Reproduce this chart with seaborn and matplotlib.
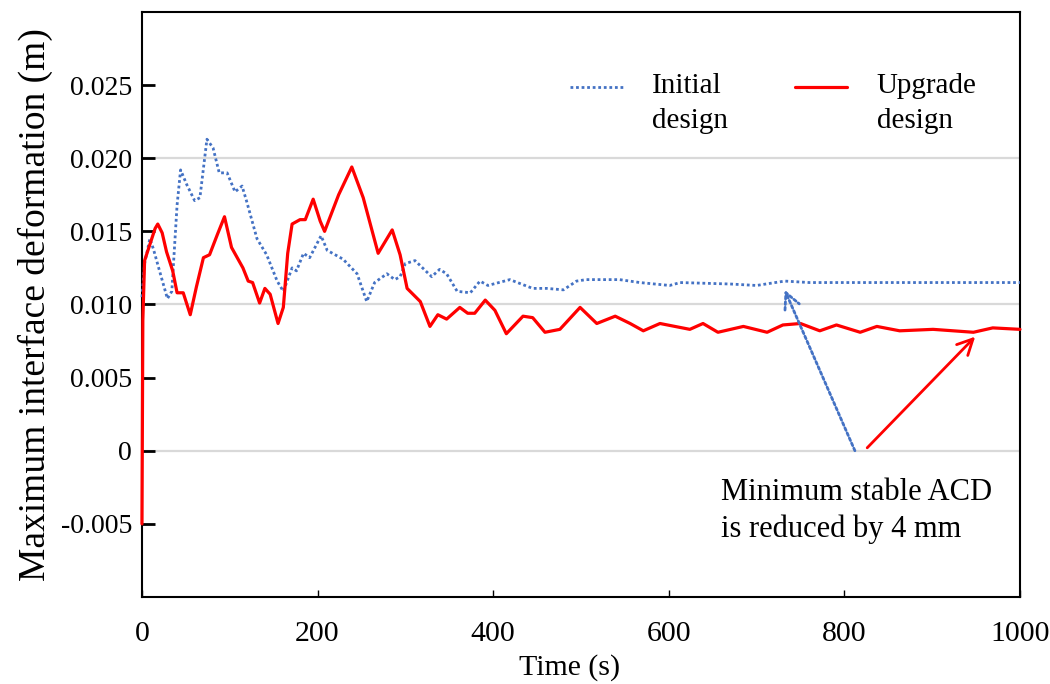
import numpy as np
import pandas as pd
import matplotlib
matplotlib.use("Agg")
import matplotlib.pyplot as plt
from matplotlib.legend_handler import HandlerLine2D
import seaborn as sns

# upgrade design (red, solid)
upgrade_t = [0, 1, 3, 9, 15, 18, 23, 28, 35, 40, 47, 55, 62, 70, 77, 86, 94, 102, 115, 121, 126, 134, 140,
             146, 155, 161, 166, 171, 180, 186, 195, 203, 208, 224, 239, 252, 269, 285, 294, 302, 317, 328,
             337, 347, 362, 371, 379, 391, 402, 415, 434, 445, 459, 476, 499, 518, 539, 556, 571,
             590, 624, 639, 656, 685, 712, 730, 750, 772, 791, 818, 837, 863, 901, 947, 969, 1000]
upgrade_v = [-0.005, 0.0089, 0.013, 0.0141, 0.0152, 0.0155, 0.0149, 0.0136, 0.0123, 0.0108, 0.0108, 0.0093,
             0.0112, 0.0132, 0.0134, 0.0148, 0.016, 0.0139, 0.0125, 0.0116, 0.0115, 0.0101, 0.0111,
             0.0107, 0.0087, 0.0098, 0.0135, 0.0155, 0.0158, 0.0158, 0.0172, 0.0157, 0.015, 0.0175, 0.0194, 0.0173,
             0.0135, 0.0151, 0.0134, 0.0111, 0.0102, 0.0085,
             0.0093, 0.009, 0.0098, 0.0094, 0.0094, 0.0103, 0.0096, 0.008, 0.0092, 0.0091, 0.0081,
             0.0083, 0.0098, 0.0087, 0.0092, 0.0087, 0.0082,
             0.0087, 0.0083, 0.0087, 0.0081, 0.0085, 0.0081, 0.0086, 0.0087, 0.0082, 0.0086, 0.0081,
             0.0085, 0.0082, 0.0083, 0.0081, 0.0084, 0.0083]

# initial design (blue, dotted)
initial_t = [0, 3, 9, 13, 20, 29, 34, 40, 44, 51, 60, 66, 74, 81, 88, 97, 106, 114, 119, 131, 142,
             154, 161, 171, 176, 184, 191, 204, 211, 229, 245, 256, 265, 279, 288, 294, 300, 311,
             330, 339, 347, 359, 374, 385, 394, 419, 445, 461, 480, 495, 506, 544, 567, 601, 613,
             670, 700, 732, 760, 800, 850, 900, 950, 1000]
initial_v = [0.0105, 0.0128, 0.0145, 0.0138, 0.0123, 0.0104, 0.0109, 0.0168, 0.0192, 0.0182, 0.0171,
             0.0173, 0.0213, 0.0207, 0.019, 0.019, 0.0177, 0.0181, 0.0171, 0.0145, 0.0134,
             0.0116, 0.0109, 0.0125, 0.0123, 0.0135, 0.0132, 0.0147, 0.0137, 0.0131, 0.0121, 0.0102,
             0.0115, 0.0121, 0.0117, 0.0119, 0.0128, 0.013,
             0.0119, 0.0124, 0.0121, 0.0109, 0.0108, 0.0116, 0.0113, 0.0117, 0.0111, 0.0111, 0.011,
             0.0116, 0.0117, 0.0117, 0.0115, 0.0113, 0.0115,
             0.0114, 0.0113, 0.0116, 0.0115, 0.0115, 0.0115, 0.0115, 0.0115, 0.0115]

x_ticks = [0, 200, 400, 600, 800, 1000]
y_ticks = [-0.005, 0, 0.005, 0.010, 0.015, 0.020, 0.025]
y_tick_labels = ["-0.005", "0", "0.005", "0.010", "0.015", "0.020", "0.025"]
grid_levels = [0, 0.01, 0.02]


class TopLineHandler(HandlerLine2D):
    # put the legend line level with the first line of a two-line label
    def create_artists(self, legend, orig_handle, xdescent, ydescent, width, height, fontsize, trans):
        return super().create_artists(legend, orig_handle, xdescent, ydescent - 24,
                                      width, height, fontsize, trans)


sns.set_theme(style="white")
plt.rcParams["font.family"] = ["Liberation Serif", "DejaVu Serif"]
plt.rcParams.update({"text.color": "black", "axes.labelcolor": "black",
                     "xtick.color": "black", "ytick.color": "black"})

df = pd.concat([
    pd.DataFrame({"t": initial_t, "v": initial_v, "design": "Initial\ndesign"}),
    pd.DataFrame({"t": upgrade_t, "v": upgrade_v, "design": "Upgrade\ndesign"}),
])

fig = plt.figure(figsize=(10.5, 6.84), dpi=100)
ax = fig.add_axes([0.1352, 0.1272, 0.8362, 0.8553])

for y in grid_levels:
    ax.axhline(y, color="#d9d9d9", lw=1.6, zorder=0)

sns.lineplot(data=df, x="t", y="v", hue="design", style="design",
             palette=["#4472c4", "#ff0000"], dashes=[(1, 1), ""],
             sort=False, estimator=None, ax=ax, legend=False)
lines = ax.get_lines()[-2:]
lines[0].set_linewidth(2.0)
lines[1].set_linewidth(2.3)
for ln in lines:
    ln.set_zorder(3)
    ln.set_clip_on(False)

leg = ax.legend(lines, ["Initial\ndesign", "Upgrade\ndesign"], ncol=2, frameon=False,
                loc="upper left", bbox_to_anchor=(0.471, 0.92), fontsize=21,
                handlelength=1.8, handletextpad=1.0, columnspacing=2.3, borderpad=0,
                handler_map={ln: TopLineHandler() for ln in lines})
for t in leg.get_texts():
    t.set_linespacing(1.45)

ax.annotate("", xy=(732, 0.0110), xytext=(812, 0.0),
            arrowprops=dict(arrowstyle="->", color="#4472c4", lw=2, linestyle=(0, (1, 1)),
                            mutation_scale=28, shrinkA=0, shrinkB=0))
ax.annotate("", xy=(949, 0.0078), xytext=(826, 0.0002),
            arrowprops=dict(arrowstyle="->", color="#ff0000", lw=2,
                            mutation_scale=28, shrinkA=0, shrinkB=0))
ax.text(660, -0.0041, "Minimum stable ACD\nis reduced by 4 mm", fontsize=22,
        ha="left", va="center", linespacing=1.33)

ax.set_xlim(0, 1000)
ax.set_ylim(-0.01, 0.03)
ax.set_xticks(x_ticks)
ax.set_yticks(y_ticks)
ax.set_yticklabels(y_tick_labels)
ax.tick_params(axis="y", direction="in", length=9, width=2, labelsize=20, pad=7, left=True)
ax.tick_params(axis="x", direction="in", length=5, width=1, labelsize=21.5, pad=17, bottom=True)
ax.set_xlabel("Time (s)", fontsize=21.5)
ax.xaxis.set_label_coords(0.487, -0.097)
ax.set_ylabel("Maximum interface deformation (m)", fontsize=27, labelpad=6)
for s in ax.spines.values():
    s.set_color("black")
    s.set_linewidth(1.5)

fig.savefig("out.png", dpi=100)
